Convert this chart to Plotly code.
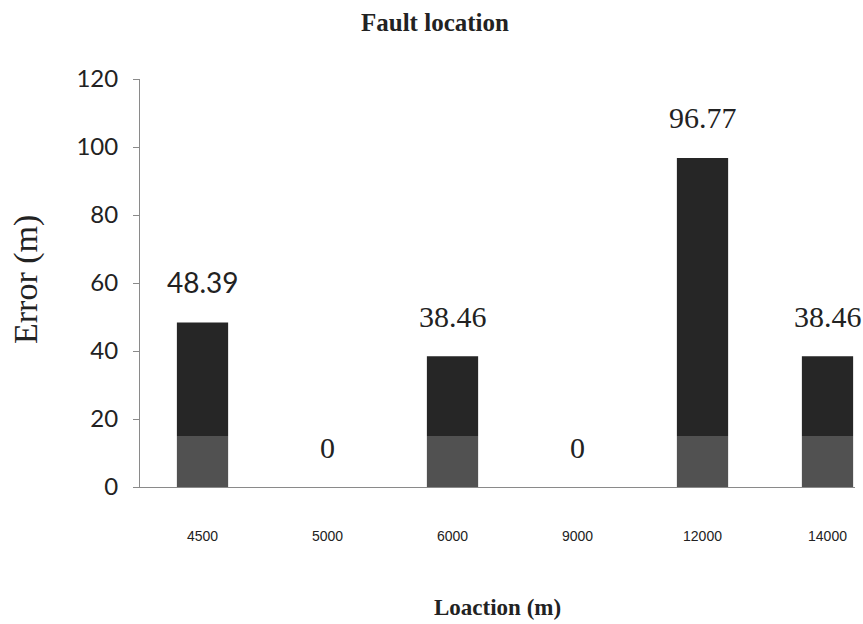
import plotly.graph_objects as go

categories = ["4500", "5000", "6000", "9000", "12000", "14000"]
errors = [48.39, 0, 38.46, 0, 96.77, 38.46]
y_ticks = [0, 20, 40, 60, 80, 100, 120]

title_text = "Fault location"
x_title = "Loaction (m)"
y_title = "Error (m)"

# plot area in pixels
L, R, T, B = 140, 855, 79, 487
W, H = R - L, B - T

def px(xp):
    return (xp - L) / W

def py(yp):
    return (B - yp) / H

fig = go.Figure()
fig.add_trace(go.Bar(
    x=categories, y=errors,
    width=0.41,
    marker=dict(color="#262626", line=dict(width=0)),
    hoverinfo="x+y",
))

def fmt(v):
    return "0" if v == 0 else f"{v:.2f}"

annotations = []
for i, (c, v) in enumerate(zip(categories, errors)):
    fnt = dict(family="Lato, Open Sans, sans-serif", size=28, color="#222") if i == 0 else \
        dict(family="Liberation Serif, Times New Roman, serif", size=30, color="#222")
    annotations.append(dict(x=i, y=v, xref="x", yref="y", text=fmt(v), showarrow=False,
                            yanchor="middle", yshift=40, font=fnt))

annotations.append(dict(x=px(435), xref="paper", y=py(22), yref="paper", text=f"<b>{title_text}</b>",
                        showarrow=False, xanchor="center", yanchor="middle",
                        font=dict(family="Liberation Serif, serif", size=25, color="#222")))
annotations.append(dict(x=px(497), xref="paper", y=py(607), yref="paper",
                        text=f"<b>{x_title}</b>", showarrow=False, xanchor="center", yanchor="middle",
                        font=dict(family="Liberation Serif, serif", size=23, color="#222")))
annotations.append(dict(x=px(26), xref="paper", y=py(280), yref="paper",
                        text=y_title, textangle=-90, showarrow=False, xanchor="center", yanchor="middle",
                        font=dict(family="Liberation Serif, serif", size=34, color="#222")))

fig.update_layout(
    width=863, height=624,
    margin=dict(l=L, r=863 - R, t=T, b=624 - B),
    paper_bgcolor="white", plot_bgcolor="white",
    showlegend=False,
    annotations=annotations,
    shapes=[dict(type="rect", xref="paper", yref="y", x0=0, x1=1, y0=0, y1=15,
                 fillcolor="rgba(255,255,255,0.2)", line=dict(width=0), layer="above")],
)
fig.update_xaxes(
    type="category", range=[-0.5, 5.22],
    showline=True, linecolor="#8a8a8a", linewidth=1,
    ticks="", showgrid=False, zeroline=False,
    tickfont=dict(family="Liberation Sans, Arial, sans-serif", size=14, color="#222"),
    ticklabelstandoff=36,
)
fig.update_yaxes(
    range=[0, 120], tickvals=y_ticks,
    showline=True, linecolor="#8a8a8a", linewidth=1,
    ticks="outside", ticklen=6, tickcolor="#8a8a8a",
    showgrid=False, zeroline=False,
    tickfont=dict(family="Lato, Open Sans, sans-serif", size=24, color="#222"),
    ticklabelstandoff=10,
)

fig.write_html("out.html")
